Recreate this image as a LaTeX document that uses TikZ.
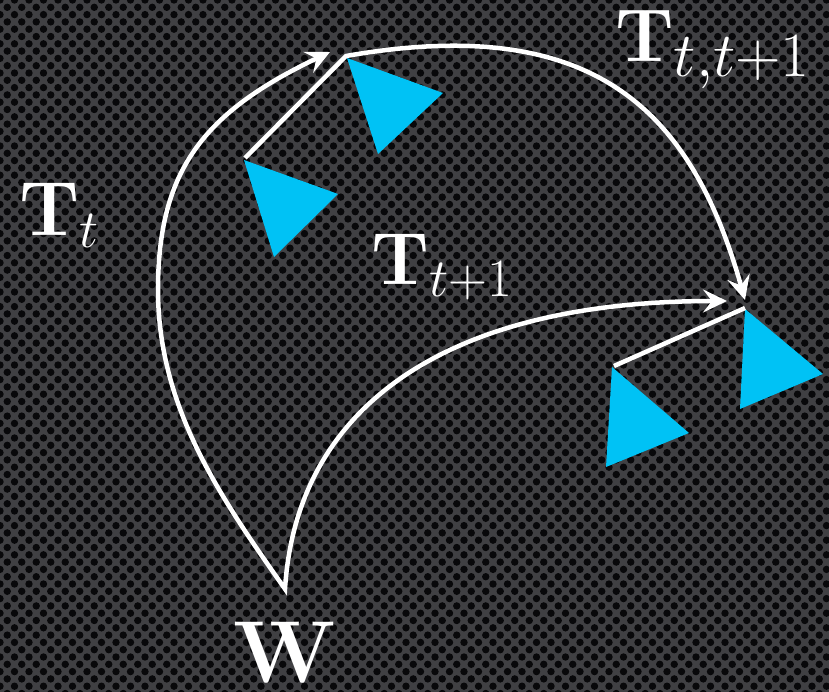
\RequirePackage{fix-cm}
\documentclass[tikz,border=0pt]{standalone}
\usepackage{amsmath,amssymb}
\usepackage{tikz}
\usetikzlibrary{arrows.meta}
\definecolor{camblue}{RGB}{0,194,245}
\definecolor{meshgrey}{RGB}{64,64,67}
\definecolor{holeblack}{RGB}{8,8,10}
\DeclareMathSizes{74}{74}{54}{38}
\DeclareMathSizes{75}{75}{63}{44}

\begin{document}
\begin{tikzpicture}[x=1pt, y=-1pt, >={Stealth[length=24pt,width=23pt,inset=9pt]},
    motion/.style={draw=white, line width=4.5pt, line join=miter},
    cam/.style={fill=camblue},
    lbl/.style={text=white, inner sep=0pt}]
    \useasboundingbox (0,0) rectangle (829,692);
    \clip (0,0) rectangle (829,692);
    \fill[meshgrey] (0,0) rectangle (829,692);
    \foreach \j in {0,...,95} {
        \pgfmathsetmacro{\off}{mod(\j,2)*7.25}
        \fill[holeblack] \foreach \i in {0,...,57} {(\i*14.5+\off, \j*7.3) circle (3.7)};
    }

    \coordinate (cam1) at (245,158);
    \coordinate (cam2) at (346,56);
    \coordinate (cam3) at (614,366);
    \coordinate (cam4) at (745,308);
    \coordinate (orig) at (285,589);
    \coordinate (tipA) at (330,52);
    \coordinate (tipB) at (727,301);
    \coordinate (tipC) at (745,300);

    \fill[cam] (cam1) ++(-1,2) -- ++(94,34) -- ++(-64,63) -- cycle;
    \fill[cam] (cam2) ++(1,2) -- ++(96,35) -- ++(-65,61) -- cycle;
    \fill[cam] (cam3) ++(-2,1) -- ++(77,66) -- ++(-83,34) -- cycle;
    \fill[cam] (cam4) ++(0,1) -- ++(78,65) -- ++(-83,35) -- cycle;

    \node[lbl, anchor=base west, font=\fontsize{77}{80}\selectfont]
        (Tt) at (19,236) {$\mathbf{T}_t$};
    \node[lbl, anchor=base west, font=\fontsize{74}{80}\selectfont]
        (Tt1) at (371,285) {$\mathbf{T}_{t+1}$};
    \node[lbl, anchor=base west, font=\fontsize{75}{80}\selectfont]
        (Ttt1) at (615,62) {$\mathbf{T}_{t,t+1}$};
    \node[lbl, anchor=base, font=\fontsize{88}{92}\selectfont]
        (W) at (285,682) {$\mathbf{W}$};

    \draw[motion, <->] (tipA) .. controls (204,112) and (158,170) .. (158,290)
        .. controls (158,410) and (224,502) .. (orig)
        .. controls (296,413) and (437,301) .. (tipB);
    \draw[motion, ->] (cam1) -- (cam2) .. controls (592,13) and (691,108) .. (tipC);
    \draw[motion] (cam3) -- (cam4);
\end{tikzpicture}
\end{document}
